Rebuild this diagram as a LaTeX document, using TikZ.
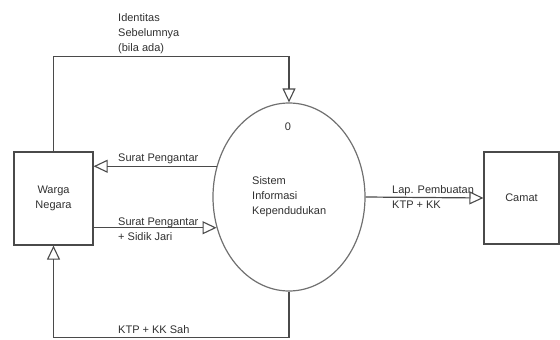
\documentclass[tikz,border=0pt]{standalone}
\usepackage{fontspec}
\setmainfont{Liberation Sans}
\usetikzlibrary{arrows.meta,shapes.geometric}
\definecolor{linec}{HTML}{4A4A4A}
\definecolor{ellc}{HTML}{707070}
\definecolor{txtc}{HTML}{303030}
\begin{document}
\begin{tikzpicture}[x=1pt,y=-1pt,
  every node/.style={font=\fontsize{11}{15}\selectfont, text=txtc},
  ent/.style={draw=linec, line width=1.2pt, rectangle, inner sep=0pt, align=center},
  proc/.style={draw=ellc, line width=1.2pt, ellipse, inner sep=0pt, minimum width=152pt, minimum height=188pt},
  flow/.style={draw=linec, line width=1.2pt, -{Triangle[open, length=14pt, width=13pt, line width=1.1pt]}},
  lbl/.style={anchor=west, align=left, inner sep=0pt}]
\useasboundingbox (0,0) rectangle (560,340);
\node[ent, minimum width=79pt, minimum height=93pt] (warga) at (53.5,198.5) {Warga\\Negara};
\node[proc] (sik) at (289,197) {};
\node[ent, minimum width=75pt, minimum height=92pt] (camat) at (521.5,198) {Camat};
\node (zero) at (288,127) {0};
\node[lbl] (siklbl) at (252,197) {Sistem\\Informasi\\Kependudukan};
% flows
\draw[flow] (warga.north) -- ++(0,-95) coordinate (tl) -| (sik.north);
\draw[flow] (sik.157) -- (sik.157 -| warga.east);
\draw[flow] (sik.203 -| warga.east) -- (sik.203);
\draw[flow] (sik.east) -- (camat.west);
\draw[flow] (sik.south) -- ++(0,46) coordinate (bl) -| (warga.south);
% labels
\node[lbl] (l1) at (118,34) {Identitas\\Sebelumnya\\(bila ada)};
\node[lbl] (l2) at (118,159) {Surat Pengantar};
\node[lbl] (l3) at (118,229) {Surat Pengantar\\+ Sidik Jari};
\node[lbl] (l4) at (118,330) {KTP + KK Sah};
\node[lbl] (l5) at (392,197.5) {Lap. Pembuatan\\KTP + KK};
\end{tikzpicture}
\end{document}
